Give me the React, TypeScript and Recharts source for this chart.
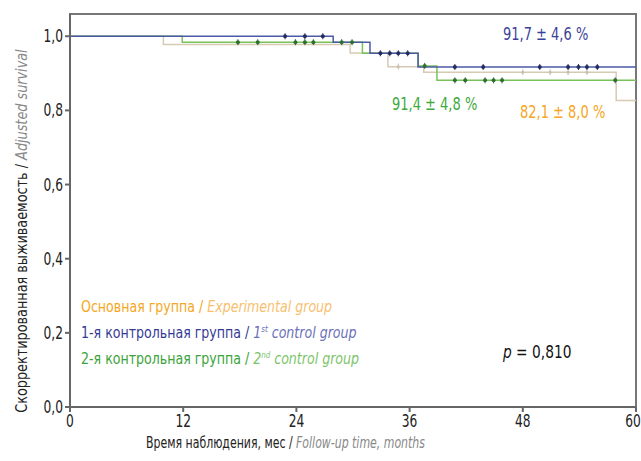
import {
  ComposedChart,
  Line,
  Scatter,
  XAxis,
  YAxis,
  ReferenceArea,
} from "recharts";

const FONT = '"DejaVu Sans Condensed", "Noto Sans", sans-serif';

const monthTicks = [0, 12, 24, 36, 48, 60];
const survivalTicks = [0, 0.2, 0.4, 0.6, 0.8, 1.0];

// Kaplan–Meier steps (month, survival)
const experimentalSteps = [
  { t: 0, s: 1 },
  { t: 9.9, s: 0.978 },
  { t: 29.7, s: 0.955 },
  { t: 33.7, s: 0.918 },
  { t: 37.5, s: 0.903 },
  { t: 57.9, s: 0.827 },
  { t: 60, s: 0.827 },
];
const control1Steps = [
  { t: 0, s: 1 },
  { t: 27.9, s: 0.984 },
  { t: 31.8, s: 0.954 },
  { t: 36.9, s: 0.917 },
  { t: 60, s: 0.917 },
];
const control2Steps = [
  { t: 0, s: 1 },
  { t: 11.9, s: 0.984 },
  { t: 31.0, s: 0.954 },
  { t: 36.9, s: 0.92 },
  { t: 38.9, s: 0.881 },
  { t: 60, s: 0.881 },
];

// censored observations
const experimentalCensored = [
  { t: 34.8, s: 0.918 },
  { t: 48.0, s: 0.903 },
  { t: 50.9, s: 0.903 },
  { t: 52.8, s: 0.903 },
  { t: 54.8, s: 0.903 },
];
const control1Censored = [
  { t: 22.8, s: 1 },
  { t: 24.9, s: 1 },
  { t: 26.8, s: 1 },
  { t: 32.9, s: 0.954 },
  { t: 33.9, s: 0.954 },
  { t: 34.8, s: 0.954 },
  { t: 35.8, s: 0.954 },
  { t: 40.8, s: 0.917 },
  { t: 43.8, s: 0.917 },
  { t: 49.8, s: 0.917 },
  { t: 52.8, s: 0.917 },
  { t: 53.9, s: 0.917 },
  { t: 54.8, s: 0.917 },
  { t: 55.9, s: 0.917 },
];
const control2Censored = [
  { t: 17.8, s: 0.984 },
  { t: 19.9, s: 0.984 },
  { t: 23.9, s: 0.984 },
  { t: 24.9, s: 0.984 },
  { t: 25.8, s: 0.984 },
  { t: 28.8, s: 0.984 },
  { t: 29.9, s: 0.984 },
  { t: 37.6, s: 0.92 },
  { t: 40.8, s: 0.881 },
  { t: 41.9, s: 0.881 },
  { t: 44.0, s: 0.881 },
  { t: 44.9, s: 0.881 },
  { t: 45.8, s: 0.881 },
  { t: 57.8, s: 0.881 },
];

const fmt = (v: number) => v.toFixed(1).replace(".", ",");

function censorMark(color: string, r: number) {
  return (props: any) => {
    const { cx, cy } = props;
    return (
      <g>
        <line x1={cx} x2={cx} y1={cy - 3} y2={cy + 3} stroke={color} strokeWidth={1} />
        <circle cx={cx} cy={cy} r={r} fill={color} />
      </g>
    );
  };
}

// narrow tick labels, like a condensed face
function XTick(props: any) {
  const { x, y, payload } = props;
  return (
    <text
      transform={`translate(${x},${y + 14}) scale(0.8,1)`}
      textAnchor="middle"
      fontSize={17}
      fontFamily={FONT}
      fill="#222"
    >
      {payload.value}
    </text>
  );
}
function YTick(props: any) {
  const { x, y, payload } = props;
  return (
    <text
      transform={`translate(${x},${y + 6}) scale(0.8,1)`}
      textAnchor="end"
      fontSize={17}
      fontFamily={FONT}
      fill="#222"
    >
      {fmt(payload.value)}
    </text>
  );
}

const txt = (style: React.CSSProperties, sx: number, origin = "left center"): React.CSSProperties => ({
  position: "absolute",
  fontFamily: FONT,
  fontSize: 16,
  whiteSpace: "nowrap",
  lineHeight: 1,
  transform: `scaleX(${sx})`,
  transformOrigin: origin,
  ...style,
});

export default function App() {
  return (
    <div style={{ position: "absolute", left: 0, top: 0, width: 641, height: 461, background: "#fff", overflow: "hidden" }}>
      <ComposedChart
        width={641}
        height={461}
        margin={{ top: 14, right: 5, bottom: 24, left: 0 }}
      >
        <XAxis
          type="number"
          dataKey="t"
          domain={[0, 60]}
          ticks={monthTicks}
          allowDataOverflow
          height={30}
          stroke="#666"
          strokeWidth={2}
          tickSize={5}
          tickMargin={1}
          tick={<XTick />}
        />
        <YAxis
          type="number"
          dataKey="s"
          domain={[0, 1.06]}
          ticks={survivalTicks}
          allowDataOverflow
          width={70}
          stroke="#666"
          strokeWidth={2}
          tickSize={5}
          tickMargin={2}
          tick={<YTick />}
        />
        <ReferenceArea x1={0} x2={60} y1={0} y2={1.06} fill="none" stroke="#777" strokeWidth={2} ifOverflow="visible" />
        <Line data={experimentalSteps} dataKey="s" type="stepAfter" stroke="#d6cab4" strokeWidth={1.5} dot={false} isAnimationActive={false} />
        <Line data={control2Steps} dataKey="s" type="stepAfter" stroke="#78c25a" strokeWidth={1.5} dot={false} isAnimationActive={false} />
        <Line data={control1Steps} dataKey="s" type="stepAfter" stroke="#4c5aa6" strokeWidth={1.5} dot={false} isAnimationActive={false} />
        <Scatter data={experimentalCensored} dataKey="s" shape={censorMark("#c9bfae", 1.5)} isAnimationActive={false} />
        <Scatter data={control2Censored} dataKey="s" shape={censorMark("#2f6e32", 2)} isAnimationActive={false} />
        <Scatter data={control1Censored} dataKey="s" shape={censorMark("#242c5e", 2)} isAnimationActive={false} />
      </ComposedChart>

      <div style={txt({ left: 503, top: 26, color: "#3b3f98", fontSize: 17 }, 0.85)}>91,7 ± 4,6 %</div>
      <div style={txt({ left: 392, top: 96, color: "#3eaa3b", fontSize: 17 }, 0.85)}>91,4 ± 4,8 %</div>
      <div style={txt({ left: 520, top: 104, color: "#f5a623", fontSize: 17 }, 0.85)}>82,1 ± 8,0 %</div>

      <div style={txt({ left: 81, top: 299, color: "#f5a623" }, 0.875)}>
        Основная группа / <i style={{ color: "#f8c06e" }}>Experimental group</i>
      </div>
      <div style={txt({ left: 81, top: 325, color: "#343a94" }, 0.875)}>
        1-я контрольная группа / <i style={{ color: "#6b70b8" }}>1<sup style={{ fontSize: 9 }}>st</sup> control group</i>
      </div>
      <div style={txt({ left: 81, top: 351, color: "#3aa33a" }, 0.875)}>
        2-я контрольная группа / <i style={{ color: "#7cc46a" }}>2<sup style={{ fontSize: 9 }}>nd</sup> control group</i>
      </div>
      <div style={txt({ left: 503, top: 344, color: "#111", fontSize: 17 }, 0.9)}>
        <i>p</i> = 0,810
      </div>

      <div style={txt({ left: 0, width: 571, top: 435, textAlign: "center", color: "#222" }, 0.76, "center center")}>
        Время наблюдения, мес / <i style={{ color: "#888" }}>Follow-up time, months</i>
      </div>
      <div
        style={{
          position: "absolute",
          left: 22,
          top: 231,
          fontFamily: FONT,
          fontSize: 16,
          lineHeight: 1,
          whiteSpace: "nowrap",
          color: "#222",
          transform: "translate(-50%, -50%) rotate(-90deg) scaleX(0.89)",
        }}
      >
        Скорректированная выживаемость / <i style={{ color: "#888" }}>Adjusted survival</i>
      </div>
    </div>
  );
}
